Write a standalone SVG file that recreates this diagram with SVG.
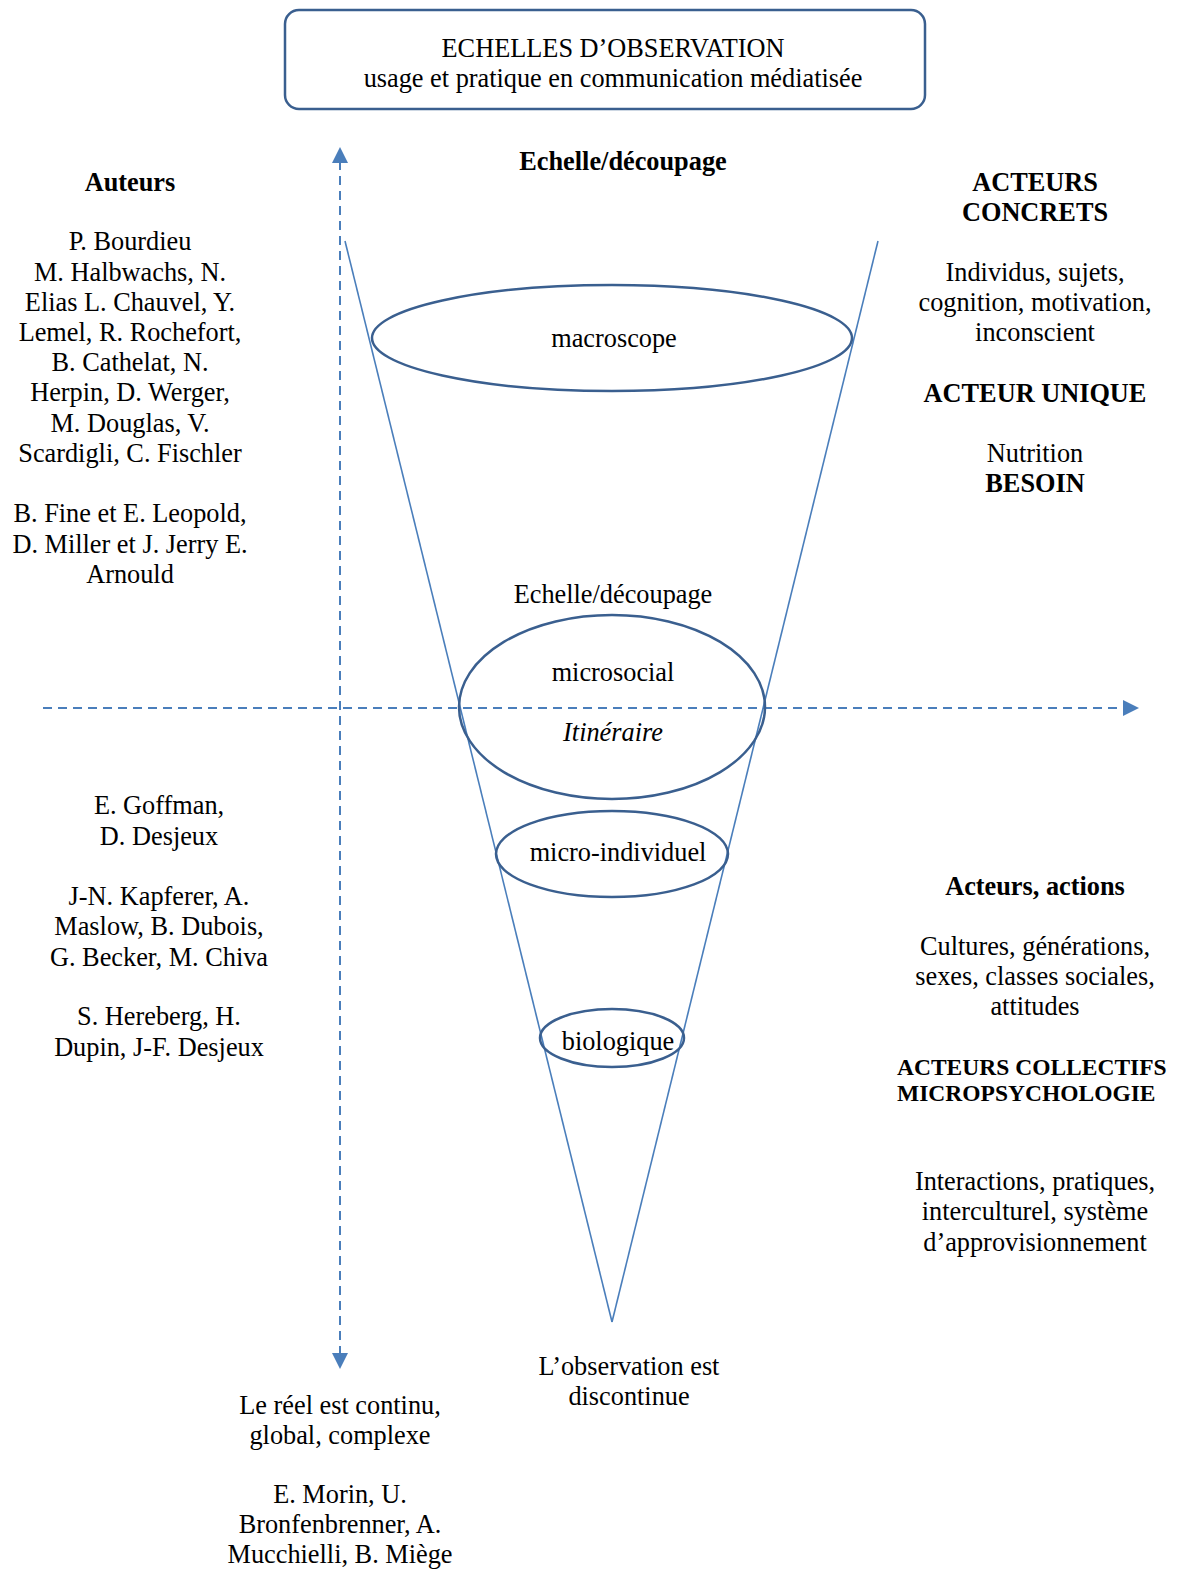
<svg xmlns="http://www.w3.org/2000/svg" width="1198" height="1594" viewBox="0 0 1198 1594">
<style>
text{font-family:"Liberation Serif","Times New Roman",serif;font-size:26.3px;fill:#000;text-anchor:middle}
.b{font-weight:bold}
.i{font-style:italic}
.sm{font-size:23.5px;text-anchor:start}
.ax{stroke:#4A7EBB;stroke-width:2;stroke-dasharray:9,6;fill:none}
.cone{stroke:#4A7EBB;stroke-width:1.6;fill:none}
.el{stroke:#3A5F8F;stroke-width:2.5;fill:none}
</style>
<rect width="1198" height="1594" fill="#fff"/>
<g id="title">
<rect x="285" y="10" width="640" height="99" rx="14" fill="#fff" stroke="#3A5F8F" stroke-width="2.5"/>
<text x="613" y="57">ECHELLES D’OBSERVATION</text>
<text x="613" y="87">usage et pratique en communication médiatisée</text>
</g>
<g id="connectors">
<line class="ax" x1="340" y1="1355" x2="340" y2="160"/>
<path d="M340,147 l-8,16 h16 z" fill="#4A7EBB"/>
<path d="M340,1369 l-8,-16 h16 z" fill="#4A7EBB"/>
<line class="ax" x1="43" y1="708" x2="1124" y2="708"/>
<path d="M1139,708 l-16,-8 v16 z" fill="#4A7EBB"/>
<line class="cone" x1="345" y1="241" x2="612" y2="1322"/>
<line class="cone" x1="878" y1="241" x2="612" y2="1322"/>
</g>
<g id="macroscope">
<ellipse class="el" cx="612" cy="338" rx="240" ry="53"/>
<text x="614" y="347">macroscope</text>
</g>
<g id="microsocial">
<ellipse class="el" cx="612" cy="707" rx="153" ry="92"/>
<text x="613" y="603">Echelle/découpage</text>
<text x="613" y="681">microsocial</text>
<text class="i" x="613" y="741">Itinéraire</text>
</g>
<g id="micro-individuel">
<ellipse class="el" cx="612" cy="854" rx="116" ry="43"/>
<text x="618" y="861">micro-individuel</text>
</g>
<g id="biologique">
<ellipse class="el" cx="612" cy="1038" rx="72" ry="29"/>
<text x="618" y="1050">biologique</text>
</g>
<g id="top-label">
<text class="b" x="623" y="170">Echelle/découpage</text>
</g>
<g id="auteurs">
<text class="b" x="130" y="191">Auteurs</text>
<text x="130" y="250">P. Bourdieu</text>
<text x="130" y="281">M. Halbwachs, N.</text>
<text x="130" y="311">Elias L. Chauvel, Y.</text>
<text x="130" y="341">Lemel, R. Rochefort,</text>
<text x="130" y="371">B. Cathelat, N.</text>
<text x="130" y="401">Herpin, D. Werger,</text>
<text x="130" y="432">M. Douglas, V.</text>
<text x="130" y="462">Scardigli, C. Fischler</text>
<text x="130" y="522">B. Fine et E. Leopold,</text>
<text x="130" y="553">D. Miller et J. Jerry E.</text>
<text x="130" y="583">Arnould</text>
</g>
<g id="auteurs-bas">
<text x="159" y="814">E. Goffman,</text>
<text x="159" y="845">D. Desjeux</text>
<text x="159" y="905">J-N. Kapferer, A.</text>
<text x="159" y="935">Maslow, B. Dubois,</text>
<text x="159" y="966">G. Becker, M. Chiva</text>
<text x="159" y="1025">S. Hereberg, H.</text>
<text x="159" y="1056">Dupin, J-F. Desjeux</text>
</g>
<g id="reel">
<text x="340" y="1414">Le réel est continu,</text>
<text x="340" y="1444">global, complexe</text>
<text x="340" y="1503">E. Morin, U.</text>
<text x="340" y="1533">Bronfenbrenner, A.</text>
<text x="340" y="1563">Mucchielli, B. Miège</text>
</g>
<g id="observation">
<text x="629" y="1375">L’observation est</text>
<text x="629" y="1405">discontinue</text>
</g>
<g id="acteurs-concrets">
<text class="b" x="1035" y="191">ACTEURS</text>
<text class="b" x="1035" y="221">CONCRETS</text>
<text x="1035" y="281">Individus, sujets,</text>
<text x="1035" y="311">cognition, motivation,</text>
<text x="1035" y="341">inconscient</text>
<text class="b" x="1035" y="402">ACTEUR UNIQUE</text>
<text x="1035" y="462">Nutrition</text>
<text class="b" x="1035" y="492">BESOIN</text>
</g>
<g id="acteurs-collectifs">
<text class="b" x="1035" y="895">Acteurs, actions</text>
<text x="1035" y="955">Cultures, générations,</text>
<text x="1035" y="985">sexes, classes sociales,</text>
<text x="1035" y="1015">attitudes</text>
<text class="b sm" x="897" y="1075">ACTEURS COLLECTIFS</text>
<text class="b sm" x="897" y="1101">MICROPSYCHOLOGIE</text>
<text x="1035" y="1190">Interactions, pratiques,</text>
<text x="1035" y="1220">interculturel, système</text>
<text x="1035" y="1251">d’approvisionnement</text>
</g>
</svg>
